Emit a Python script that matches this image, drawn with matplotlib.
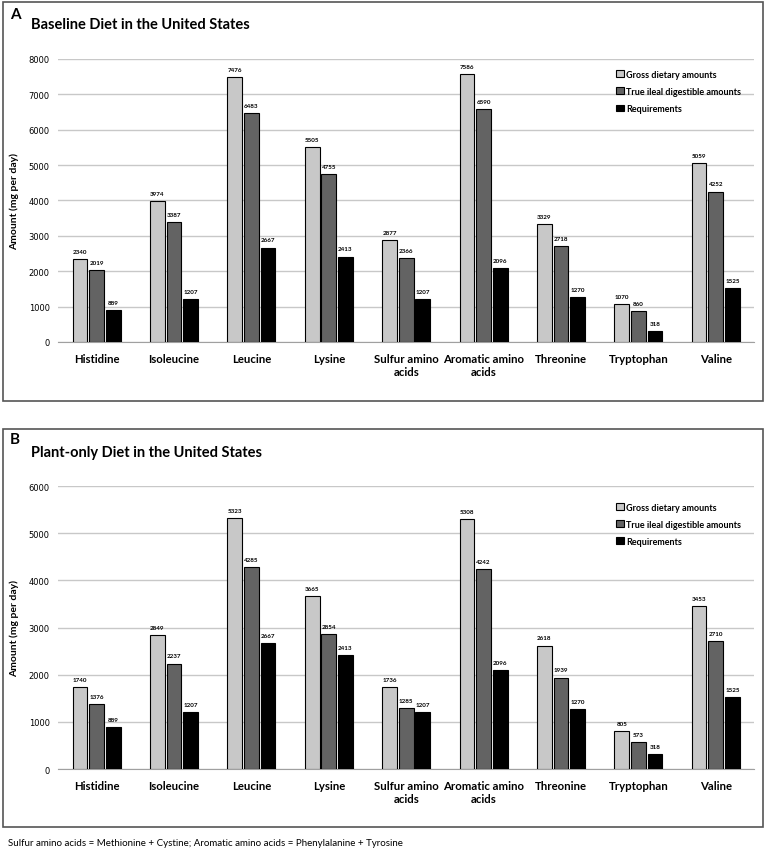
import matplotlib.pyplot as plt
import numpy as np
from matplotlib.patches import Rectangle

categories = ["Histidine", "Isoleucine", "Leucine", "Lysine", "Sulfur amino\nacids",
              "Aromatic amino\nacids", "Threonine", "Tryptophan", "Valine"]
series_names = ["Gross dietary amounts", "True ileal digestible amounts", "Requirements"]

baseline_gross = [2340, 3974, 7476, 5505, 2877, 7586, 3329, 1070, 5059]
baseline_tid = [2019, 3387, 6483, 4755, 2366, 6590, 2718, 860, 4252]
requirements = [889, 1207, 2667, 2413, 1207, 2096, 1270, 318, 1525]

plant_gross = [1740, 2849, 5323, 3665, 1736, 5308, 2618, 805, 3453]
plant_tid = [1376, 2237, 4285, 2854, 1285, 4242, 1939, 573, 2710]

colors = ["#c8c8c8", "#636363", "#000000"]
font = "Lato"

fig = plt.figure(figsize=(7.67, 8.53), dpi=100)

# panel frames
for y0, h in [(0.5287, 0.468), (0.0293, 0.4667)]:
    fig.add_artist(Rectangle((0.004, y0), 0.991, h, transform=fig.transFigure,
                             fill=False, edgecolor="#555555", linewidth=1.2))


def draw_panel(rect, series, ymax, letter, title, letter_y, title_y, leg_y):
    ax = fig.add_axes(rect)
    x = np.arange(len(categories))
    width = 0.19
    for i, vals in enumerate(series):
        pos = x + (i - 1) * 0.215
        ax.bar(pos, vals, width, color=colors[i], edgecolor="black", linewidth=0.8,
               label=series_names[i], zorder=3)
        for p, v in zip(pos, vals):
            ax.text(p, v + ymax * 0.018, str(v), ha="center", va="bottom",
                    fontsize=4.5, fontweight="bold", family=font)
    ax.set_xlim(-0.5, len(categories) - 0.5)
    ax.set_ylim(0, ymax)
    ax.set_yticks(np.arange(0, ymax + 1, 1000))
    ax.yaxis.grid(True, color="#c8c8c8", linewidth=1, zorder=0)
    for s in ["top", "right", "left"]:
        ax.spines[s].set_visible(False)
    ax.spines["bottom"].set_color("#a0a0a0")
    ax.tick_params(axis="both", length=0)
    ax.tick_params(axis="y", labelsize=6, pad=6)
    ax.set_xticks(x)
    ax.set_xticklabels(categories, fontsize=8.2, fontweight="bold", family=font)
    ax.tick_params(axis="x", pad=8)
    ax.set_ylabel("Amount (mg per day)", fontsize=7.5, fontweight="bold", family=font, labelpad=7)
    ax.legend(loc="upper left", bbox_to_anchor=(0.79, leg_y), frameon=False,
              prop={"family": font, "weight": "bold", "size": 6.5},
              handlelength=0.8, handleheight=0.8, handletextpad=0.3,
              labelspacing=0.9)
    fig.text(0.013, letter_y, letter, fontsize=11, fontweight="bold", family=font)
    fig.text(0.04, title_y, title, fontsize=10.5, fontweight="bold", family=font)
    return ax


draw_panel([0.0756, 0.598, 0.908, 0.3317], [baseline_gross, baseline_tid, requirements],
           8000, "A", "Baseline Diet in the United States", 0.978, 0.966, 0.99)
draw_panel([0.0756, 0.0973, 0.908, 0.3317], [plant_gross, plant_tid, requirements],
           6000, "B", "Plant-only Diet in the United States", 0.479, 0.464, 0.97)

fig.text(0.01, 0.008, "Sulfur amino acids = Methionine + Cystine; Aromatic amino acids = Phenylalanine + Tyrosine",
         fontsize=7, family=font)

fig.savefig("out.png", dpi=100)
